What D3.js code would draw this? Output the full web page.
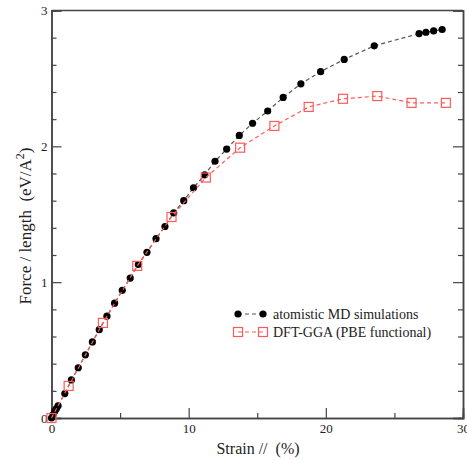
<!DOCTYPE html>
<html>
<head>
<meta charset="utf-8">
<script src="https://cdn.jsdelivr.net/npm/d3@7"></script>
<style>
  body { margin: 0; background: #fff; }
  svg text { font-family: "Liberation Serif", "DejaVu Serif", serif !important; fill: #222; }
</style>
</head>
<body>
<script>
// MD data (strain %, force/length eV/A^2)
var mdStrain = [0, 0.12, 0.24, 0.36, 0.48, 0.97, 1.45, 1.95, 2.47, 2.98, 3.48, 4.04, 4.6, 5.16, 5.74, 6.33, 6.96, 7.62, 8.27, 8.91, 9.64, 10.35, 11.17, 11.92, 12.77, 13.69, 14.66, 15.76, 16.89, 18.18, 19.62, 21.34, 23.53, 26.8, 27.3, 27.86, 28.48];
var mdForce  = [0, 0.025, 0.05, 0.07, 0.09, 0.18, 0.28, 0.37, 0.465, 0.56, 0.65, 0.75, 0.845, 0.94, 1.03, 1.13, 1.22, 1.32, 1.41, 1.51, 1.6, 1.695, 1.79, 1.89, 1.98, 2.08, 2.17, 2.26, 2.36, 2.46, 2.55, 2.64, 2.74, 2.83, 2.84, 2.85, 2.86];

// DFT data
var dftStrain = [0, 1.25, 3.75, 6.25, 8.75, 11.25, 13.75, 16.25, 18.75, 21.25, 23.75, 26.25, 28.75];
var dftForce  = [0, 0.236, 0.70, 1.12, 1.48, 1.77, 1.99, 2.15, 2.29, 2.35, 2.37, 2.32, 2.32];

var xTicks = [0, 10, 20, 30];
var yTicks = [0, 1, 2, 3];
var legendLabels = ["atomistic MD simulations", "DFT-GGA (PBE functional)"];

var width = 467, height = 460;
var margin = {left: 51.5, right: 4, top: 10.5, bottom: 42};
var axisColor = "#444";
var redColor = "#ff5a5a";

var svg = d3.select("body").append("svg")
    .attr("width", width)
    .attr("height", height);

var x = d3.scaleLinear().domain([0, 30]).range([margin.left, width - margin.right]);
var y = d3.scaleLinear().domain([0, 3]).range([height - margin.bottom, margin.top]);

var md = mdStrain.map((s, i) => [s, mdForce[i]]);
var dft = dftStrain.map((s, i) => [s, dftForce[i]]);

var line = d3.line().x(d => x(d[0])).y(d => y(d[1]));

//axes
var g = svg.append("g");
g.append("g")
    .attr("transform", "translate(0," + y(0) + ")")
    .call(d3.axisBottom(x).tickValues(xTicks).tickFormat(d3.format("d")).tickSize(-10).tickPadding(6));
g.append("g")
    .attr("transform", "translate(0," + y(0) + ")")
    .call(d3.axisBottom(x).tickValues([5, 15, 25]).tickSize(-5).tickFormat(""));
g.append("g")
    .attr("transform", "translate(" + x(0) + ",0)")
    .call(d3.axisLeft(y).tickValues(yTicks).tickFormat(d3.format("d")).tickSize(-10).tickPadding(4));
var yMinor = d3.range(0, 3.01, 0.2).filter(v => Math.abs(v - Math.round(v)) > 0.01);
g.append("g")
    .attr("transform", "translate(" + x(0) + ",0)")
    .call(d3.axisLeft(y).tickValues(yMinor).tickSize(-5).tickFormat(""));
g.append("g")
    .attr("transform", "translate(" + x(30) + ",0)")
    .call(d3.axisRight(y).tickValues(yTicks).tickSize(-10).tickFormat(""));
g.append("g")
    .attr("transform", "translate(" + x(30) + ",0)")
    .call(d3.axisRight(y).tickValues(yMinor).tickSize(-5).tickFormat(""));
g.append("line")
    .attr("x1", x(0)).attr("x2", x(30))
    .attr("y1", y(3)).attr("y2", y(3));

g.selectAll("g").attr("font-family", null);
g.selectAll(".domain").attr("stroke", axisColor).attr("stroke-width", 1.5);
g.selectAll(".tick line").attr("stroke", axisColor).attr("stroke-width", 1.2);
g.selectAll("line").filter(function() { return !this.parentNode.classList.contains("tick"); })
    .attr("stroke", axisColor).attr("stroke-width", 1.5);
g.selectAll(".tick text")
    .style("font-size", "13px")
    .attr("fill", "#222");

//MD series
svg.append("path")
    .datum(md)
    .attr("d", line)
    .attr("fill", "none")
    .attr("stroke", "#555")
    .attr("stroke-width", 1.2)
    .attr("stroke-dasharray", "4,3");
svg.append("g").selectAll("circle")
    .data(md)
    .enter().append("circle")
    .attr("cx", d => x(d[0]))
    .attr("cy", d => y(d[1]))
    .attr("r", 3.6)
    .attr("fill", "#000");

//DFT series
svg.append("path")
    .datum(dft)
    .attr("d", line)
    .attr("fill", "none")
    .attr("stroke", redColor)
    .attr("stroke-width", 1.2)
    .attr("stroke-dasharray", "4,3");
svg.append("g").selectAll("rect")
    .data(dft)
    .enter().append("rect")
    .attr("x", d => x(d[0]) - 4.5)
    .attr("y", d => y(d[1]) - 4.5)
    .attr("width", 9)
    .attr("height", 9)
    .attr("fill", "none")
    .attr("stroke", redColor)
    .attr("stroke-width", 1.2);

//axis titles
svg.append("text")
    .attr("x", 258)
    .attr("y", 454)
    .attr("text-anchor", "middle")
    .style("font-size", "16px")
    .text("Strain //\u00a0\u00a0(%)");

var yl = svg.append("text")
    .attr("transform", "translate(31,226) rotate(-90)")
    .attr("text-anchor", "middle")
    .style("font-size", "17px");
yl.append("tspan").text("Force / length\u00a0\u00a0(eV/A");
yl.append("tspan").attr("dy", -7).style("font-size", "12px").text("2");
yl.append("tspan").attr("dy", 7).text(")");

//legend
var leg = svg.append("g").attr("transform", "translate(238,314)");
leg.append("line").attr("x1", 0).attr("x2", 25).attr("y1", 0).attr("y2", 0)
    .attr("stroke", "#555").attr("stroke-width", 1.2).attr("stroke-dasharray", "4,3");
leg.selectAll("circle").data([0, 25]).enter().append("circle")
    .attr("cx", d => d).attr("cy", 0).attr("r", 3.6).attr("fill", "#000");
leg.append("line").attr("x1", 0).attr("x2", 25).attr("y1", 18).attr("y2", 18)
    .attr("stroke", redColor).attr("stroke-width", 1.2).attr("stroke-dasharray", "4,3");
leg.selectAll("rect").data([0, 25]).enter().append("rect")
    .attr("x", d => d - 4.5).attr("y", 18 - 4.5).attr("width", 9).attr("height", 9)
    .attr("fill", "none").attr("stroke", redColor).attr("stroke-width", 1.2);
leg.selectAll("text").data(legendLabels).enter().append("text")
    .attr("x", 35)
    .attr("y", (d, i) => i * 18 + 5)
    .style("font-size", "14px")
    .text(d => d);
</script>
</body>
</html>
